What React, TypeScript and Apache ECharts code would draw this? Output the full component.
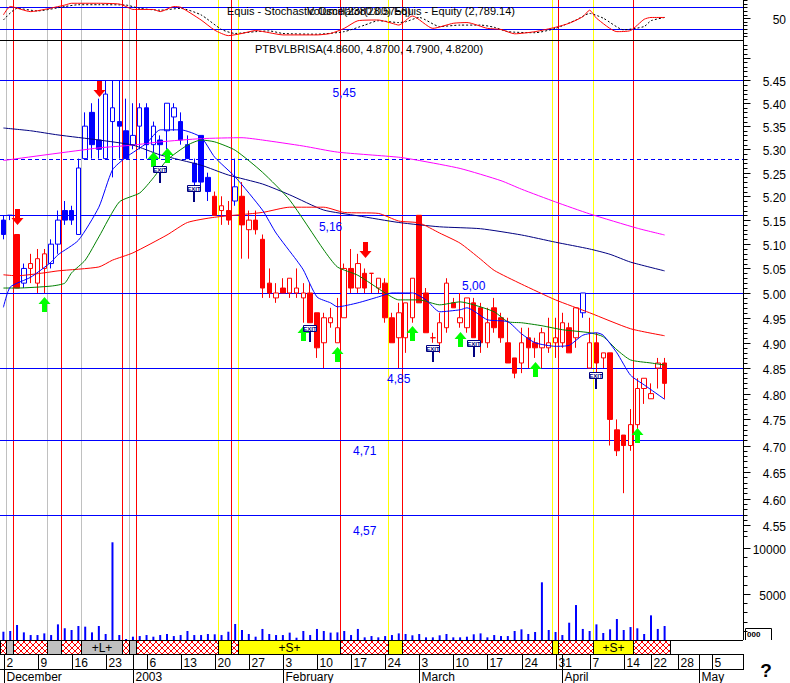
import React, { useEffect, useRef } from "react";
import * as echarts from "echarts";

// ================= DATA =================
const days: string[] = [
  "2002-11-29",
  "2002-12-02","2002-12-03","2002-12-04","2002-12-05","2002-12-06",
  "2002-12-09","2002-12-10","2002-12-11","2002-12-12","2002-12-13",
  "2002-12-16","2002-12-17","2002-12-18","2002-12-19","2002-12-20",
  "2002-12-23","2002-12-24","2002-12-27","2002-12-30",
  "2003-01-02","2003-01-03",
  "2003-01-06","2003-01-07","2003-01-08","2003-01-09","2003-01-10",
  "2003-01-13","2003-01-14","2003-01-15","2003-01-16","2003-01-17",
  "2003-01-20","2003-01-21","2003-01-22","2003-01-23","2003-01-24",
  "2003-01-27","2003-01-28","2003-01-29","2003-01-30","2003-01-31",
  "2003-02-03","2003-02-04","2003-02-05","2003-02-06","2003-02-07",
  "2003-02-10","2003-02-11","2003-02-12","2003-02-13","2003-02-14",
  "2003-02-17","2003-02-18","2003-02-19","2003-02-20","2003-02-21",
  "2003-02-24","2003-02-25","2003-02-26","2003-02-27","2003-02-28",
  "2003-03-03","2003-03-04","2003-03-05","2003-03-06","2003-03-07",
  "2003-03-10","2003-03-11","2003-03-12","2003-03-13","2003-03-14",
  "2003-03-17","2003-03-18","2003-03-19","2003-03-20","2003-03-21",
  "2003-03-24","2003-03-25","2003-03-26","2003-03-27","2003-03-28",
  "2003-03-31","2003-04-01","2003-04-02","2003-04-03","2003-04-04",
  "2003-04-07","2003-04-08","2003-04-09","2003-04-10","2003-04-11",
  "2003-04-14","2003-04-15","2003-04-16","2003-04-17",
  "2003-04-22","2003-04-23","2003-04-24","2003-04-25",
  "2003-04-28","2003-04-29","2003-04-30","2003-05-01","2003-05-02",
  "2003-05-05","2003-05-06","2003-05-07","2003-05-08",
];

const opens = [
  5.15,5.16,5.12,5.02,5.05,5.02,5.05,5.06,5.10,5.17,
  5.17,5.12,5.28,5.38,5.32,5.28,5.36,5.36,5.34,5.31,
  5.35,5.39,5.31,5.32,5.34,5.37,5.36,5.31,5.27,5.33,
  5.24,5.20,5.17,5.17,5.19,5.20,5.13,5.15,5.11,5.02,
  4.99,5.01,5.00,5.00,4.99,5.00,4.96,4.90,4.94,4.90,
  4.95,5.05,5.01,5.04,5.04,5.01,5.02,4.95,4.91,4.91,
  4.95,5.16,5.00,4.91,4.90,4.93,4.98,4.94,4.93,4.98,
  4.97,4.90,4.97,4.95,4.90,4.87,4.86,4.91,4.90,4.89,
  4.89,4.90,4.90,4.93,4.91,4.96,4.85,4.90,4.87,4.88,
  4.73,4.72,4.70,4.74,4.81,4.79,4.85,4.86,
];
const highs = [
  5.16,5.16,5.12,5.06,5.08,5.09,5.09,5.11,5.17,5.19,
  5.18,5.28,5.38,5.40,5.41,5.45,5.45,5.45,5.41,5.40,
  5.40,5.40,5.36,5.33,5.40,5.40,5.38,5.33,5.28,5.33,
  5.25,5.21,5.20,5.19,5.28,5.23,5.17,5.17,5.12,5.05,
  5.02,5.03,5.03,5.05,5.02,5.02,4.96,4.96,4.97,4.99,
  5.06,5.09,5.08,5.05,5.04,5.03,5.03,4.96,4.98,4.98,
  5.03,5.16,5.01,4.92,4.96,5.03,4.99,5.00,4.99,4.99,
  4.98,4.97,4.99,4.96,4.95,4.87,4.93,4.93,4.91,4.93,
  4.95,4.95,4.96,4.94,4.97,5.00,4.95,4.92,4.88,4.88,
  4.75,4.72,4.77,4.83,4.83,4.82,4.87,4.87,
];
const lows = [
  5.11,5.15,5.01,5.01,5.02,5.00,5.00,5.05,5.08,5.14,
  5.14,5.12,5.28,5.28,5.28,5.28,5.24,5.28,5.28,5.30,
  5.30,5.28,5.28,5.28,5.30,5.34,5.31,5.28,5.22,5.22,
  5.19,5.16,5.14,5.14,5.18,5.07,5.07,5.12,4.99,4.99,
  4.98,5.00,4.99,4.99,4.94,4.94,4.87,4.85,4.93,4.90,
  4.95,5.00,5.00,5.00,5.00,5.00,4.94,4.90,4.85,4.88,
  4.94,4.98,4.92,4.90,4.88,4.92,4.97,4.93,4.92,4.91,
  4.88,4.89,4.92,4.90,4.86,4.83,4.84,4.85,4.87,4.85,
  4.88,4.87,4.89,4.88,4.89,4.95,4.85,4.84,4.85,4.70,
  4.68,4.61,4.69,4.73,4.78,4.79,4.81,4.79,
];
const closes = [
  5.12,5.16,5.01,5.05,5.06,5.07,5.08,5.10,5.15,5.15,
  5.15,5.26,5.35,5.31,5.30,5.42,5.39,5.35,5.28,5.33,
  5.39,5.31,5.35,5.31,5.40,5.39,5.32,5.28,5.23,5.23,
  5.21,5.16,5.18,5.15,5.22,5.14,5.15,5.13,5.01,5.00,
  5.00,5.00,5.03,5.01,5.00,4.94,4.89,4.95,4.95,4.93,
  5.05,5.01,5.06,5.01,5.04,5.03,4.95,4.90,4.96,4.98,
  5.03,4.98,4.92,4.91,4.94,5.02,4.97,4.95,4.99,4.91,
  4.90,4.94,4.93,4.91,4.86,4.84,4.90,4.89,4.89,4.92,
  4.90,4.91,4.94,4.88,4.97,5.00,4.90,4.86,4.88,4.75,
  4.69,4.70,4.74,4.81,4.83,4.80,4.86,4.82,
];
// B = blue candle, R = red candle
const candleSide =
  "BBRBRRR" + "BBBBBBBBBBBBBBBBBBBBBBBB" + "RRR" + "B" +
  "RRRRRRRRRRRRRRRRRRRRRRRRRRRRRRRRRRRRRRRRRRRRRRRRRR" + "B" + "RRRRRRRRRRRR";

const volumes = [
  900,980,1630,830,540,540,720,540,1700,1270,
  1090,1520,1450,830,1520,650,10620,540,110,360,
  430,540,360,540,650,430,540,980,540,540,
  650,620,540,900,1740,1090,650,360,1200,650,
  540,540,800,250,980,540,1200,980,800,830,
  980,540,1200,290,430,290,430,540,720,650,
  510,650,290,290,510,650,290,290,360,620,
  720,290,540,430,430,980,1160,650,870,6270,
  1090,870,540,1880,3800,1200,980,1700,760,1160,
  2280,1090,1410,1270,650,2680,1200,1520,
];

// moving averages: [bar index, price]
const maNavy = [[0,5.346],[4,5.340],[8,5.331],[14,5.320],[19,5.309],[23,5.288],[29,5.266],[33,5.245],[38,5.226],[42,5.203],[47,5.171],[52,5.159],[58,5.145],[64,5.136],[70,5.132],[76,5.119],[81,5.104],[86,5.090],[89,5.079],[92,5.063],[97,5.045]];
const maMagenta = [[0,5.276],[14,5.303],[19,5.309],[23,5.316],[29,5.323],[35,5.325],[38,5.320],[44,5.307],[49,5.294],[58,5.283],[61,5.276],[67,5.259],[73,5.233],[76,5.215],[81,5.188],[86,5.163],[93,5.133],[97,5.119]];
const maRed = [[0,5.037],[2,5.035],[6,5.041],[8,5.045],[14,5.053],[16,5.067],[19,5.082],[24,5.119],[27,5.145],[31,5.156],[38,5.166],[42,5.177],[47,5.177],[50,5.166],[55,5.164],[58,5.148],[61,5.144],[64,5.123],[67,5.102],[70,5.069],[72,5.046],[76,5.018],[81,4.986],[86,4.960],[92,4.928],[97,4.914]];
const maGreen = [[0,5.010],[2,5.010],[7,5.014],[9,5.020],[10,5.041],[12,5.067],[14,5.115],[17,5.188],[20,5.207],[22,5.239],[24,5.277],[27,5.309],[29,5.320],[31,5.316],[34,5.298],[38,5.251],[42,5.192],[47,5.088],[49,5.053],[52,5.036],[56,5.000],[58,4.986],[61,4.986],[64,4.976],[67,4.982],[69,4.976],[72,4.962],[74,4.942],[76,4.940],[79,4.934],[82,4.926],[86,4.920],[88,4.912],[90,4.886],[92,4.866],[95,4.860],[97,4.856]];
const maBlue = [[0,4.971],[1,5.012],[4,5.032],[7,5.063],[8,5.078],[11,5.108],[14,5.177],[16,5.256],[18,5.283],[21,5.313],[23,5.342],[26,5.342],[29,5.326],[31,5.283],[34,5.241],[38,5.171],[40,5.123],[43,5.067],[44,5.047],[46,4.992],[48,4.980],[49,4.972],[52,4.980],[55,4.992],[57,5.000],[60,5.000],[62,4.986],[64,4.962],[67,4.966],[68,4.970],[71,4.946],[74,4.942],[76,4.918],[78,4.900],[81,4.893],[83,4.895],[85,4.915],[87,4.920],[88,4.915],[90,4.880],[92,4.836],[94,4.817],[97,4.789]];

// stochastic oscillator: [bar index, value]
const stochK = [[0,59],[1,82],[4,68],[6,74],[9,86],[10,91],[14,91],[17,89],[18,82],[19,74],[22,74],[23,68],[25,82],[26,80],[29,45],[31,17],[33,2],[35,8],[37,16],[39,10],[41,4],[46,4],[48,8],[50,22],[52,43],[55,45],[57,36],[58,31],[60,56],[63,22],[66,36],[68,38],[71,22],[73,19],[75,7],[78,13],[81,25],[83,36],[85,54],[86,72],[87,50],[90,13],[92,16],[94,47],[95,52],[97,52]];
const stochD = [[0,45],[2,77],[5,70],[9,82],[11,87],[14,87],[18,86],[20,77],[23,72],[26,77],[29,59],[32,19],[34,8],[37,13],[39,15],[41,8],[46,6],[50,13],[53,31],[55,43],[58,38],[59,40],[61,52],[64,27],[67,31],[70,31],[72,25],[74,13],[78,10],[81,22],[84,45],[86,63],[88,50],[91,18],[94,27],[95,43],[97,52]];
const stochLevels = [80, 20];

// horizontal price levels
const levels = [5.45, 5.28, 5.16, 5.00, 4.85, 4.71, 4.57];
const levelText = ["5,45", "", "5,16", "5,00", "4,85", "4,71", "4,57"];

// expert signals: [bar index, price at arrow tip / sign top]
const buyArrows = [[6,4.992],[22,5.294],[24,5.303],[44,4.933],[49,4.892],[60,4.933],[67,4.921],[78,4.862],[93,4.734]];
const sellArrows = [[2,5.140],[14,5.414],[53,5.071]];
const exitSigns = [[23,5.264],[28,5.224],[45,4.935],[63,4.895],[69,4.905],[87,4.842]];

// system state changes (bar index where the state starts): L = long, S = short, X = exit
const signalDays = [1,2,7,9,12,18,19,20,32,34,35,50,57,59,81,82,87,93];
const signalKind = ["L","X","L","X","L","X","L","X","S","X","S","X","S","X","S","X","S","X"];

// date axis
const weekStarts = ["2002-12-02","2002-12-09","2002-12-16","2002-12-23","2003-01-06","2003-01-13","2003-01-20","2003-01-27","2003-02-03","2003-02-10","2003-02-17","2003-02-24","2003-03-03","2003-03-10","2003-03-17","2003-03-24","2003-03-31","2003-04-07","2003-04-14","2003-04-22","2003-04-28","2003-05-05"];
const weekLabels = ["2","9","16","23","6","13","20","27","3","10","17","24","3","10","17","24","31","7","14","22","28","5"];
const monthStarts = ["2002-12-02","2003-01-02","2003-02-03","2003-03-03","2003-04-01","2003-05-01"];
const monthLabels = ["December","2003","February","March","April","May"];

const priceTickLabels = ["5.45","5.40","5.35","5.30","5.25","5.20","5.15","5.10","5.05","5.00","4.95","4.90","4.85","4.80","4.75","4.70","4.65","4.60","4.55"];
const volumeTickLabels = ["10000", "5000"];
const stochTickLabels = ["50"];

const titleTexts = ["Equis - Stochastic Oscillator(28.5756)", "Volume(2380.00) Equis - Equity (2,789.14)"];
const symbolTitle = "PTBVLBRISA(4.8600, 4.8700, 4.7900, 4.8200)";

// ================= LAYOUT =================
const FONT = '"Liberation Sans", Arial, sans-serif';
const CW = 743;
const Y_REF = 80.5, P_REF = 5.45, PX_PER_LN = 2465.5;
const P_TOP = 41, P_BOT = 540;
const PMAX = P_REF * Math.exp((Y_REF - P_TOP) / PX_PER_LN);
const PMIN = P_REF * Math.exp(-(P_BOT - Y_REF) / PX_PER_LN);
const VOL_TOP = 539, VOL_BOT = 640;
const VMAX = (10000 * (VOL_BOT - VOL_TOP)) / (VOL_BOT - 548);
const BAND_END = 98.4;
const levelDashed = [false, true, false, false, false, false, false];
const levelLabelAt = [50, -1, 48, 69, 58, 53, 53];
const levelLabelDy = [12, 0, 11, -8, 10, 10, 15];
const SIG_COLOR: any = { L: "#C0C0C0", S: "#FFFF00", X: "#FF0000" };

const txt = (x: number, y: number, text: string, opts: any = {}) => ({
  type: "text",
  x,
  y,
  silent: true,
  style: {
    text,
    fill: opts.fill || "#000",
    font: opts.font || `12px ${FONT}`,
    align: opts.align || "left",
    textAlign: opts.align || "left",
    verticalAlign: "middle",
    textVerticalAlign: "middle",
  },
});

function makeHatch(): any {
  const c = document.createElement("canvas");
  c.width = 6;
  c.height = 6;
  const g = c.getContext("2d");
  if (!g) return "#ffb0b0";
  g.fillStyle = "#ffffff";
  g.fillRect(0, 0, 6, 6);
  g.fillStyle = "#ff0000";
  for (let i = 0; i < 6; i++) {
    g.fillRect(i, i, 1, 1);
    g.fillRect(5 - i, i, 1, 1);
  }
  return { image: c.toDataURL(), repeat: "repeat", imageWidth: 6, imageHeight: 6 };
}

function buildOption(hatch: any): any {
  const idx = (d: string) => days.indexOf(d);

  const mkCandle = (side: string) =>
    opens.map((o, k) => (candleSide[k] === side ? [o, closes[k], lows[k], highs[k]] : "-"));

  const bandSegments: any[] = [];
  let prevB = 0;
  let prevKind = "X";
  signalDays.forEach((b, i) => {
    bandSegments.push([prevB, b, prevKind]);
    prevB = b;
    prevKind = signalKind[i];
  });
  bandSegments.push([prevB, BAND_END, prevKind]);

  const priceTickValues: number[] = [];
  for (let c = 453; c <= 553; c++) priceTickValues.push(c / 100);
  const volTickValues: number[] = [];
  for (let v = 1000; v <= 10000; v += 1000) volTickValues.push(v);
  const stochTickValues: number[] = [];
  for (let v = 0; v <= 100; v += 10) stochTickValues.push(v);

  const bandBase = (api: any) => {
    const w = api.size([1, 0])[0];
    return { w, base: api.coord([0, 0.5])[0] - w / 2 };
  };

  const maLine = (data: any, color: string) => ({
    type: "line",
    xAxisIndex: 1,
    yAxisIndex: 1,
    data,
    symbol: "none",
    showSymbol: false,
    smooth: 0.2,
    silent: true,
    z: 5,
    lineStyle: { color, width: 1 },
    itemStyle: { color },
  });

  const tickSeries = (grid: number, values: number[], isMajor: (v: number) => boolean, labelOf: (v: number) => string) => ({
    type: "custom",
    xAxisIndex: grid,
    yAxisIndex: grid,
    silent: true,
    z: 20,
    data: values.map((v) => [0, v]),
    renderItem: (params: any, api: any) => {
      const cs = params.coordSys;
      const v = api.value(1);
      const y = Math.round(api.coord([0, v])[1]) + 0.5;
      const x0 = cs.x + cs.width + 0.5;
      const major = isMajor(v);
      const children: any[] = [
        { type: "line", shape: { x1: x0, y1: y, x2: x0 + (major ? 7 : 4), y2: y }, style: { stroke: "#000", lineWidth: 1 } },
      ];
      const lab = labelOf(v);
      if (lab) children.push(txt(786, y + 1, lab, { align: "right" }));
      return { type: "group", children };
    },
  });

  const series: any[] = [
    // vertical system lines
    {
      type: "custom",
      xAxisIndex: 3,
      yAxisIndex: 3,
      silent: true,
      z: 1,
      data: signalDays.map((b) => [b, 0.5]),
      renderItem: (params: any, api: any) => {
        const { w, base } = bandBase(api);
        const x = Math.floor(base + api.value(0) * w) + 0.5;
        return {
          type: "line",
          shape: { x1: x, y1: 0, x2: x, y2: 640 },
          style: { stroke: SIG_COLOR[signalKind[params.dataIndex]], lineWidth: 1 },
        };
      },
    },
    // state band
    {
      type: "custom",
      xAxisIndex: 3,
      yAxisIndex: 3,
      silent: true,
      z: 8,
      data: bandSegments.map((s) => [s[0], 0.5]),
      renderItem: (params: any, api: any) => {
        const seg = bandSegments[params.dataIndex];
        const { w, base } = bandBase(api);
        const top = params.coordSys.y;
        const x0 = Math.floor(base + seg[0] * w) + 0.5;
        const x1 = Math.floor(base + seg[1] * w) + 0.5;
        const fill = seg[2] === "L" ? "#C0C0C0" : seg[2] === "S" ? "#FFFF00" : hatch;
        const children: any[] = [
          { type: "rect", shape: { x: x0, y: top + 0.5, width: x1 - x0, height: 14 }, style: { fill, stroke: "#000", lineWidth: 1 } },
        ];
        if (seg[2] !== "X" && x1 - x0 > 30) {
          children.push(txt((x0 + x1) / 2, top + 8, seg[2] === "L" ? "+L+" : "+S+", { align: "center" }));
        }
        return { type: "group", children };
      },
    },
    // week ticks + labels
    {
      type: "custom",
      xAxisIndex: 3,
      yAxisIndex: 3,
      silent: true,
      z: 8,
      data: weekStarts.map((d) => [idx(d), 0.5]),
      renderItem: (params: any, api: any) => {
        const { w, base } = bandBase(api);
        const top = params.coordSys.y;
        const x = Math.floor(base + api.value(0) * w - 0.41 * w) + 0.5;
        return {
          type: "group",
          children: [
            { type: "line", shape: { x1: x, y1: top + 14, x2: x, y2: top + 29 }, style: { stroke: "#000", lineWidth: 1 } },
            txt(x + 2, top + 22.5, weekLabels[params.dataIndex]),
          ],
        };
      },
    },
    // month separators + labels
    {
      type: "custom",
      xAxisIndex: 3,
      yAxisIndex: 3,
      silent: true,
      z: 8,
      data: monthStarts.map((d) => [idx(d), 0.5]),
      renderItem: (params: any, api: any) => {
        const { w, base } = bandBase(api);
        const top = params.coordSys.y;
        const x = Math.floor(base + api.value(0) * w - 0.41 * w) + 0.5;
        return {
          type: "group",
          children: [
            { type: "line", shape: { x1: x, y1: top + 14, x2: x, y2: top + 43 }, style: { stroke: "#000", lineWidth: 1 } },
            txt(x + 2, top + 37, monthLabels[params.dataIndex]),
          ],
        };
      },
    },
    // price level lines and labels
    {
      type: "custom",
      xAxisIndex: 1,
      yAxisIndex: 1,
      silent: true,
      z: 2,
      data: levels.map((p) => [0, p]),
      renderItem: (params: any, api: any) => {
        const cs = params.coordSys;
        const i = params.dataIndex;
        const p = api.value(1);
        const y = Math.round(api.coord([0, p])[1]) + 0.5;
        const children: any[] = [
          {
            type: "line",
            shape: { x1: cs.x, y1: y, x2: cs.x + cs.width, y2: y },
            style: { stroke: "#0000FF", lineWidth: 1, lineDash: levelDashed[i] ? [4, 3] : null },
          },
        ];
        if (levelText[i]) {
          const lx = api.coord([levelLabelAt[i], p])[0];
          children.push(txt(lx, y + levelLabelDy[i], levelText[i], { align: "center", fill: "#0000FF" }));
        }
        return { type: "group", children };
      },
    },
    // candles
    {
      type: "candlestick",
      xAxisIndex: 1,
      yAxisIndex: 1,
      barWidth: 5,
      silent: true,
      z: 3,
      data: mkCandle("B"),
      itemStyle: { color: "#ffffff", color0: "#0000FF", borderColor: "#0000FF", borderColor0: "#0000FF", borderWidth: 1 },
    },
    {
      type: "candlestick",
      xAxisIndex: 1,
      yAxisIndex: 1,
      barWidth: 5,
      silent: true,
      z: 3,
      data: mkCandle("R"),
      itemStyle: { color: "#ffffff", color0: "#FF0000", borderColor: "#FF0000", borderColor0: "#FF0000", borderWidth: 1 },
    },
    maLine(maMagenta, "#FF00FF"),
    maLine(maNavy, "#000080"),
    maLine(maRed, "#FF0000"),
    maLine(maGreen, "#008000"),
    maLine(maBlue, "#0000FF"),
    // buy arrows
    {
      type: "custom",
      xAxisIndex: 1,
      yAxisIndex: 1,
      silent: true,
      z: 7,
      data: buyArrows,
      renderItem: (params: any, api: any) => {
        const pt = api.coord([api.value(0), api.value(1)]);
        const x = Math.round(pt[0]) + 0.5;
        const y = Math.round(pt[1]);
        return {
          type: "polygon",
          shape: { points: [[x, y], [x + 6, y + 7], [x + 2.5, y + 7], [x + 2.5, y + 15], [x - 2.5, y + 15], [x - 2.5, y + 7], [x - 6, y + 7]] },
          style: { fill: "#00FF00" },
        };
      },
    },
    // sell arrows
    {
      type: "custom",
      xAxisIndex: 1,
      yAxisIndex: 1,
      silent: true,
      z: 7,
      data: sellArrows,
      renderItem: (params: any, api: any) => {
        const pt = api.coord([api.value(0), api.value(1)]);
        const x = Math.round(pt[0]) + 0.5;
        const y = Math.round(pt[1]);
        return {
          type: "polygon",
          shape: { points: [[x, y], [x + 6, y - 7], [x + 2.5, y - 7], [x + 2.5, y - 16], [x - 2.5, y - 16], [x - 2.5, y - 7], [x - 6, y - 7]] },
          style: { fill: "#FF0000" },
        };
      },
    },
    // exit signs
    {
      type: "custom",
      xAxisIndex: 1,
      yAxisIndex: 1,
      silent: true,
      z: 7,
      data: exitSigns,
      renderItem: (params: any, api: any) => {
        const pt = api.coord([api.value(0), api.value(1)]);
        const x = Math.round(pt[0]);
        const y = Math.round(pt[1]);
        return {
          type: "group",
          children: [
            { type: "rect", shape: { x: x - 6.5, y: y + 0.5, width: 13, height: 6 }, style: { fill: "#ffffff", stroke: "#000080", lineWidth: 1 } },
            txt(x, y + 4, "EXIT", { align: "center", fill: "#000080", font: `bold 6px ${FONT}` }),
            { type: "rect", shape: { x: x - 1, y: y + 7, width: 2, height: 10 }, style: { fill: "#000080" } },
          ],
        };
      },
    },
    // volume
    {
      type: "bar",
      xAxisIndex: 2,
      yAxisIndex: 2,
      barWidth: 2,
      silent: true,
      z: 3,
      data: volumes,
      itemStyle: { color: "#0000FF" },
    },
    // stochastic levels
    {
      type: "custom",
      xAxisIndex: 0,
      yAxisIndex: 0,
      silent: true,
      z: 2,
      data: stochLevels.map((v) => [0, v]),
      renderItem: (params: any, api: any) => {
        const cs = params.coordSys;
        const y = Math.round(api.coord([0, api.value(1)])[1]) + 0.5;
        return { type: "line", shape: { x1: cs.x, y1: y, x2: cs.x + cs.width, y2: y }, style: { stroke: "#0000FF", lineWidth: 1 } };
      },
    },
    {
      type: "line",
      xAxisIndex: 0,
      yAxisIndex: 0,
      data: stochD,
      symbol: "none",
      smooth: 0.2,
      silent: true,
      z: 4,
      lineStyle: { color: "#000000", width: 1, type: [2, 2] },
    },
    {
      type: "line",
      xAxisIndex: 0,
      yAxisIndex: 0,
      data: stochK,
      symbol: "none",
      smooth: 0.2,
      silent: true,
      z: 5,
      lineStyle: { color: "#FF0000", width: 1 },
    },
    tickSeries(1, priceTickValues, (v) => Math.round(v * 100) % 5 === 0, (v) => (priceTickLabels.includes(v.toFixed(2)) ? v.toFixed(2) : "")),
    tickSeries(2, volTickValues, (v) => v % 5000 === 0, (v) => (volumeTickLabels.includes(String(v)) ? String(v) : "")),
    tickSeries(0, stochTickValues, (v) => v === 50, (v) => (stochTickLabels.includes(String(v)) ? String(v) : "")),
  ];

  const graphic: any[] = [
    { type: "line", silent: true, z: 30, shape: { x1: CW + 0.5, y1: 0, x2: CW + 0.5, y2: 640 }, style: { stroke: "#000", lineWidth: 1 } },
    { type: "line", silent: true, z: 30, shape: { x1: CW + 0.5, y1: 654, x2: CW + 0.5, y2: 670 }, style: { stroke: "#000", lineWidth: 1 } },
    { type: "line", silent: true, z: 30, shape: { x1: 0, y1: 40.5, x2: CW, y2: 40.5 }, style: { stroke: "#000", lineWidth: 1 } },
    { type: "line", silent: true, z: 30, shape: { x1: 0, y1: 640.5, x2: CW, y2: 640.5 }, style: { stroke: "#000", lineWidth: 1 } },
    { type: "line", silent: true, z: 30, shape: { x1: 0, y1: 654.5, x2: CW, y2: 654.5 }, style: { stroke: "#000", lineWidth: 1 } },
    { type: "line", silent: true, z: 30, shape: { x1: 0, y1: 669.5, x2: CW, y2: 669.5 }, style: { stroke: "#000", lineWidth: 1 } },
    { ...txt(227, 11, titleTexts[0], { font: `11px ${FONT}` }), z: 30 },
    { ...txt(515, 11, titleTexts[1], { font: `11px ${FONT}`, align: "right" }), z: 30 },
    { ...txt(255, 49, symbolTitle, { font: `11px ${FONT}` }), z: 30 },
    {
      type: "polyline",
      silent: true,
      z: 30,
      shape: { points: [[745.5, 640], [745.5, 628.5], [771.5, 628.5], [771.5, 640]] },
      style: { stroke: "#000", fill: "none", lineWidth: 1 },
    },
    { ...txt(747, 634.5, "000", { font: `bold 8px ${FONT}` }), z: 30 },
    { ...txt(766, 670, "?", { font: `bold 19px ${FONT}`, align: "center" }), z: 30 },
  ];

  return {
    animation: false,
    backgroundColor: "#ffffff",
    grid: [
      { left: 0, top: 0, width: CW, height: 40 },
      { left: 0, top: P_TOP, width: CW, height: P_BOT - P_TOP },
      { left: 0, top: VOL_TOP, width: CW, height: VOL_BOT - VOL_TOP },
      { left: 0, top: 640, width: CW, height: 43 },
    ],
    xAxis: [0, 1, 2, 3].map((i) => ({ type: "category", gridIndex: i, data: days, show: false, boundaryGap: true })),
    yAxis: [
      { gridIndex: 0, type: "value", min: -10, max: 100, show: false },
      { gridIndex: 1, type: "log", logBase: 10, min: PMIN, max: PMAX, show: false },
      { gridIndex: 2, type: "value", min: 0, max: VMAX, show: false },
      { gridIndex: 3, type: "value", min: 0, max: 1, show: false },
    ],
    graphic,
    series,
  };
}

export default function App() {
  const ref = useRef<HTMLDivElement | null>(null);
  useEffect(() => {
    if (!ref.current) return;
    const chart = echarts.init(ref.current, null, { renderer: "svg" });
    chart.setOption(buildOption(makeHatch()));
    return () => chart.dispose();
  }, []);
  return (
    <div
      ref={ref}
      style={{ position: "absolute", left: 0, top: 0, width: 790, height: 683, background: "#ffffff" }}
    />
  );
}
